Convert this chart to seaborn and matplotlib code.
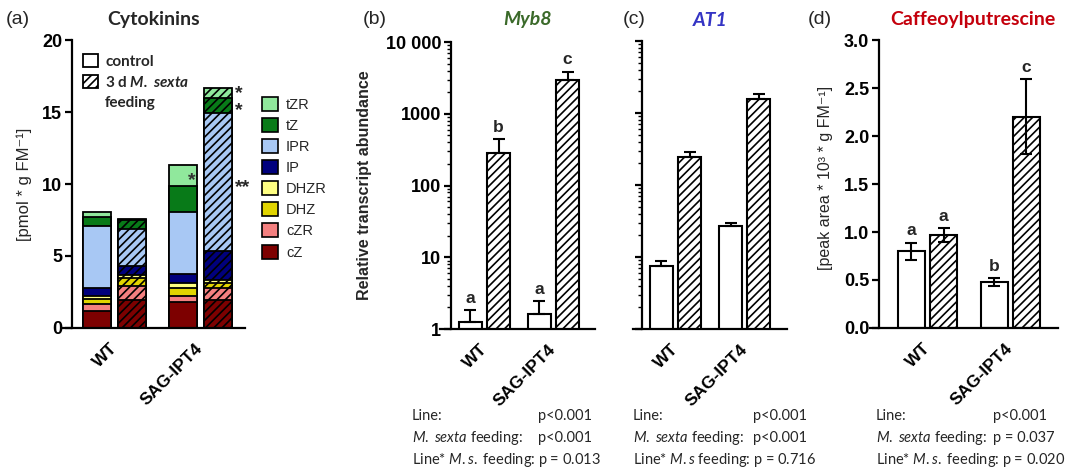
import matplotlib
matplotlib.use("Agg")
import pandas as pd
import matplotlib.pyplot as plt
import seaborn as sns
from matplotlib.patches import Patch
from matplotlib.ticker import LogLocator, NullFormatter

sns.set_theme(style="ticks")
plt.rcParams.update({
    "font.family": ["Liberation Sans", "DejaVu Sans"],
    "axes.linewidth": 1.6,
    "axes.edgecolor": "black",
    "xtick.color": "black",
    "ytick.color": "black",
    "hatch.linewidth": 1.2,
    "mathtext.fontset": "custom",
    "mathtext.rm": "Lato",
    "mathtext.it": "Lato:italic",
    "mathtext.sf": "Lato:italic:bold",
    "mathtext.bf": "Liberation Sans:bold",
})

# ---------------- data ----------------
lines = ["WT", "SAG-IPT4"]
treatments = ["control", "feeding"]

# cytokinins, pmol g-1 FM, stacked bottom -> top
compounds = ["cZ", "cZR", "DHZ", "DHZR", "IP", "IPR", "tZ", "tZR"]
compound_colors = ["#7d0000", "#f48080", "#e1d400", "#ffff82",
                   "#00007d", "#a8c8f4", "#087a18", "#90e89c"]
ck_wt_control = [1.16, 0.51, 0.35, 0.18, 0.58, 4.28, 0.62, 0.35]
ck_wt_feeding = [1.97, 0.92, 0.56, 0.25, 0.58, 2.60, 0.60, 0.09]
ck_sag_control = [1.81, 0.39, 0.58, 0.34, 0.65, 4.26, 1.85, 1.46]
ck_sag_feeding = [1.97, 0.81, 0.34, 0.24, 1.96, 9.61, 1.04, 0.70]
# significance marks on single cytokinin fractions
ck_mark_line = ["SAG-IPT4", "SAG-IPT4", "SAG-IPT4", "SAG-IPT4"]
ck_mark_treatment = ["control", "feeding", "feeding", "feeding"]
ck_mark_compound = ["tZR", "tZR", "tZ", "IPR"]
ck_mark_text = ["*", "*", "*", "**"]
# where on the fraction the mark sits: its middle or its upper edge
ck_mark_anchor = ["mid", "top", "mid", "mid"]

# Myb8 relative transcript abundance (mean, SE) per line
myb8_control = [1.27, 1.60]
myb8_control_se = [0.57, 0.88]
myb8_feeding = [287, 2950]
myb8_feeding_se = [151, 910]
myb8_control_letters = ["a", "a"]
myb8_feeding_letters = ["b", "c"]

# AT1 relative transcript abundance
at1_control = [7.4, 27.2]
at1_control_se = [1.3, 2.4]
at1_feeding = [242, 1560]
at1_feeding_se = [41, 270]

# caffeoylputrescine, peak area * 10^3 g-1 FM
caff_control = [0.80, 0.48]
caff_control_se = [0.09, 0.04]
caff_feeding = [0.97, 2.20]
caff_feeding_se = [0.07, 0.39]
caff_control_letters = ["a", "b"]
caff_feeding_letters = ["a", "c"]

stats_b = [("Line:", "p<0.001"), (r"$\mathit{M.}$ $\mathit{sexta}$ feeding:", "p<0.001"),
           (r"Line* $\mathit{M.s.}$ feeding: p = 0.013", None)]
stats_c = [("Line:", "p<0.001"), (r"$\mathit{M.}$ $\mathit{sexta}$ feeding:", "p<0.001"),
           (r"Line* $\mathit{M.s}$ feeding: p = 0.716", None)]
stats_d = [("Line:", "p<0.001"), (r"$\mathit{M.}$ $\mathit{sexta}$ feeding:", "p = 0.037"),
           (r"Line* $\mathit{M.s.}$ feeding: p = 0.020", None)]

HATCH = "////"

# ---------------- figure layout (pixel based) ----------------
W, H = 1070, 473
fig = plt.figure(figsize=(W / 100, H / 100), dpi=100)


def px_axes(x0, x1, ytop, ybot):
    return fig.add_axes([x0 / W, 1 - ybot / H, (x1 - x0) / W, (ybot - ytop) / H])


def ftext(x, y, s, **kw):
    return fig.text(x / W, 1 - y / H, s, **kw)


ax_a = px_axes(63, 245, 40, 328)
ax_b = px_axes(440, 595, 42, 329)
ax_c = px_axes(633, 787, 41, 329)
ax_d = px_axes(870, 1058, 40, 328)


def bars_by_key(containers):
    out = {}
    for cont in containers:
        for bar in cont:
            cx = bar.get_x() + bar.get_width() / 2
            gi = int(round(cx))
            tr = treatments[0] if cx < gi else treatments[1]
            out[(lines[gi], tr)] = bar
    return out


def draw_pairs(ax, control, feeding, width, gap, colors=("white", "white")):
    df = pd.DataFrame({
        "line": lines * 2,
        "treatment": [treatments[0]] * 2 + [treatments[1]] * 2,
        "value": list(control) + list(feeding),
    })
    n0 = len(ax.containers)
    sns.barplot(data=df, x="line", y="value", hue="treatment", order=lines,
                hue_order=treatments, palette=list(colors), saturation=1,
                width=width, gap=gap, edgecolor="black", linewidth=1.5,
                errorbar=None, legend=False, ax=ax)
    bars = bars_by_key(ax.containers[n0:])
    for ln in lines:
        bars[(ln, treatments[1])].set_hatch(HATCH)
    return bars


def add_errors(ax, bars, means, ses, tr, both=False, letters=None):
    for ln, m, e in zip(lines, means, ses):
        bar = bars[(ln, tr)]
        cx = bar.get_x() + bar.get_width() / 2
        lo = e if both else 0
        ax.errorbar([cx], [m], yerr=[[lo], [e]], fmt="none", ecolor="black",
                    elinewidth=1.5, capsize=4.5, capthick=1.5, zorder=5)
    if letters is not None:
        for ln, m, e, let in zip(lines, means, ses, letters):
            bar = bars[(ln, tr)]
            cx = bar.get_x() + bar.get_width() / 2
            ax.annotate(let, (cx, m + e), xytext=(0, 3), textcoords="offset points",
                        ha="center", va="bottom", fontweight="bold", fontsize=12.5)


def style_axis(ax, xlim, spine_x):
    sns.despine(ax=ax)
    ax.set_xlim(*xlim)
    ax.spines["left"].set_position(("data", spine_x))
    ax.spines["left"].set_linewidth(1.6)
    ax.spines["bottom"].set_linewidth(1.6)
    ax.set_xlabel("")
    ax.tick_params(axis="y", which="major", direction="out", length=5, width=1.6, pad=2)
    ax.tick_params(axis="y", which="minor", direction="out", length=3, width=1.0)
    ax.tick_params(axis="x", length=0, pad=13)
    ax.set_xticks([0, 1], lines, rotation=45, ha="right", va="center",
                  rotation_mode="anchor", fontweight="bold", fontsize=12.5)
    ax.set_facecolor("none")
    ax.grid(False)


# ---------------- (a) cytokinins, stacked ----------------
ck_values = {
    ("WT", "control"): ck_wt_control,
    ("WT", "feeding"): ck_wt_feeding,
    ("SAG-IPT4", "control"): ck_sag_control,
    ("SAG-IPT4", "feeding"): ck_sag_feeding,
}
rows = []
for (ln, tr), vals in ck_values.items():
    for comp, v in zip(compounds, vals):
        rows.append({"line": ln, "treatment": tr, "compound": comp, "value": v})
ck = pd.DataFrame(rows)
ck["top"] = ck.groupby(["line", "treatment"])["value"].cumsum()
ck["mid"] = ck["top"] - ck["value"] / 2

ck_bars = {}
for comp, col in reversed(list(zip(compounds, compound_colors))):
    sub = ck[ck.compound == comp]
    n0 = len(ax_a.containers)
    sns.barplot(data=sub, x="line", y="top", hue="treatment", order=lines,
                hue_order=treatments, palette=[col, col], saturation=1,
                width=0.816, gap=0.2, edgecolor="black", linewidth=1.3,
                errorbar=None, legend=False, ax=ax_a)
    bars = bars_by_key(ax_a.containers[n0:])
    for ln in lines:
        bars[(ln, treatments[1])].set_hatch(HATCH)
    ck_bars[comp] = bars

style_axis(ax_a, ((63 - 114.5) / 85.75, (245 - 114.5) / 85.75), (72 - 114.5) / 85.75)
ax_a.set_ylim(0, 20)
ax_a.set_yticks([0, 5, 10, 15, 20], ["0", "5", "10", "15", "20"],
                fontweight="bold", fontsize=13)
ax_a.set_ylabel("[pmol * g FM\u207b\u00b9]", fontsize=12)
ax_a.yaxis.set_label_coords((32 - 63) / 182, 0.5)

for ln, tr, comp, txt, anc in zip(ck_mark_line, ck_mark_treatment, ck_mark_compound,
                                  ck_mark_text, ck_mark_anchor):
    bar = ck_bars[comp][(ln, tr)]
    row = ck[(ck.line == ln) & (ck.treatment == tr) & (ck.compound == comp)].iloc[0]
    ypos = row["top"] if anc == "top" else row["mid"]
    xr = bar.get_x() + bar.get_width()
    if tr == "control":
        ax_a.annotate(txt, (xr, ypos), xytext=(-1, -4), textcoords="offset points",
                      ha="right", va="center", fontsize=14, fontweight="bold", color="#333333")
    else:
        ax_a.annotate(txt, (xr, ypos), xytext=(2, -4), textcoords="offset points",
                      ha="left", va="center", fontsize=14, fontweight="bold",
                      annotation_clip=False)

treat_handles = [Patch(facecolor="white", edgecolor="black", linewidth=1.3),
                 Patch(facecolor="white", edgecolor="black", linewidth=1.3, hatch=HATCH),
                 Patch(facecolor="none", edgecolor="none")]
ax_a.legend(treat_handles, ["control", "3 d $\\mathsf{M.}$ $\\mathsf{sexta}$", "feeding"],
            loc="upper left", bbox_to_anchor=((83 - 63) / 182, (328 - 54) / 288),
            frameon=False, borderpad=0, borderaxespad=0, handlelength=0.95,
            handleheight=0.95, handletextpad=0.5, labelspacing=0.38,
            prop={"family": "Lato", "weight": "bold", "size": 11})

comp_handles = [Patch(facecolor=c, edgecolor="black", linewidth=1.2)
                for c in reversed(compound_colors)]
fig.legend(comp_handles, list(reversed(compounds)), loc="upper left",
           bbox_to_anchor=(262 / W, 1 - 97 / H), frameon=False, borderpad=0,
           borderaxespad=0, handlelength=1.1, handleheight=1.1, handletextpad=0.55,
           labelspacing=0.42, prop={"size": 10.5})

# ---------------- (b) Myb8 ----------------
ax_b.set_yscale("log")
bars_b = draw_pairs(ax_b, myb8_control, myb8_feeding, 0.812, 0.17)
add_errors(ax_b, bars_b, myb8_control, myb8_control_se, "control", letters=myb8_control_letters)
add_errors(ax_b, bars_b, myb8_feeding, myb8_feeding_se, "feeding", letters=myb8_feeding_letters)
style_axis(ax_b, ((440 - 484.5) / 69, (595 - 484.5) / 69), (451 - 484.5) / 69)
ax_b.set_ylim(1, 10000)
ax_b.set_yticks([1, 10, 100, 1000, 10000], ["1", "10", "100", "1000", "10 000"],
                fontweight="bold", fontsize=13)
ax_b.yaxis.set_minor_locator(LogLocator(base=10, subs=range(2, 10)))
ax_b.yaxis.set_minor_formatter(NullFormatter())
ax_b.set_ylabel("Relative transcript abundance", fontsize=11.5, fontweight="bold")
ax_b.yaxis.set_label_coords((372 - 440) / 155, 0.5)

# ---------------- (c) AT1 ----------------
ax_c.set_yscale("log")
bars_c = draw_pairs(ax_c, at1_control, at1_feeding, 0.81, 0.17)
add_errors(ax_c, bars_c, at1_control, at1_control_se, "control")
add_errors(ax_c, bars_c, at1_feeding, at1_feeding_se, "feeding")
style_axis(ax_c, ((633 - 675.5) / 69.25, (787 - 675.5) / 69.25), (641.7 - 675.5) / 69.25)
ax_c.set_ylim(1, 10000)
ax_c.set_yticks([1, 10, 100, 1000, 10000], [""] * 5)
ax_c.yaxis.set_minor_locator(LogLocator(base=10, subs=range(2, 10)))
ax_c.yaxis.set_minor_formatter(NullFormatter())
ax_c.set_ylabel("")

# ---------------- (d) caffeoylputrescine ----------------
bars_d = draw_pairs(ax_d, caff_control, caff_feeding, 0.78, 0.16)
add_errors(ax_d, bars_d, caff_control, caff_control_se, "control", both=True,
           letters=caff_control_letters)
add_errors(ax_d, bars_d, caff_feeding, caff_feeding_se, "feeding", both=True,
           letters=caff_feeding_letters)
style_axis(ax_d, ((870 - 927.5) / 82.75, (1058 - 927.5) / 82.75), (879 - 927.5) / 82.75)
ax_d.set_ylim(0, 3)
d_ticks = [0, 0.5, 1.0, 1.5, 2.0, 2.5, 3.0]
ax_d.set_yticks(d_ticks, [f"{t:.1f}" for t in d_ticks], fontweight="bold", fontsize=13)
ax_d.set_ylabel("[peak area * 10\u00b3 * g FM\u207b\u00b9]", fontsize=11.5)
ax_d.yaxis.set_label_coords((833 - 870) / 188, 0.52)

# ---------------- titles and panel letters ----------------
ftext(6, 19, "(a)", fontsize=14, va="center", ha="left")
ftext(154, 19, "Cytokinins", fontsize=14, fontweight="bold", family="Lato",
      va="center", ha="center")
ftext(363, 20, "(b)", fontsize=14, va="center", ha="left")
ftext(527, 20, "Myb8", fontsize=14, fontweight="bold", style="italic", family="Lato",
      color="#3b6a2a", va="center", ha="center")
ftext(623, 20, "(c)", fontsize=14, va="center", ha="left")
ftext(710, 20, "AT1", fontsize=14, fontweight="bold", style="italic", family="Lato",
      color="#3434c4", va="center", ha="center")
ftext(808, 20, "(d)", fontsize=14, va="center", ha="left")
ftext(973, 20, "Caffeoylputrescine", fontsize=14, fontweight="bold", family="Lato",
      color="#c4000c", va="center", ha="center")

# ---------------- statistics below panels ----------------
def stats_block(x0, xv, rows_):
    for (label, val), y in zip(rows_, [416, 438, 460]):
        ftext(x0, y, label, family="Lato", fontsize=10.5, va="center", ha="left")
        if val is not None:
            ftext(xv, y, val, family="Lato", fontsize=10.5, va="center", ha="left")


stats_block(412, 538, stats_b)
stats_block(633, 753, stats_c)
stats_block(876, 993, stats_d)

fig.savefig("out.png", dpi=100)
